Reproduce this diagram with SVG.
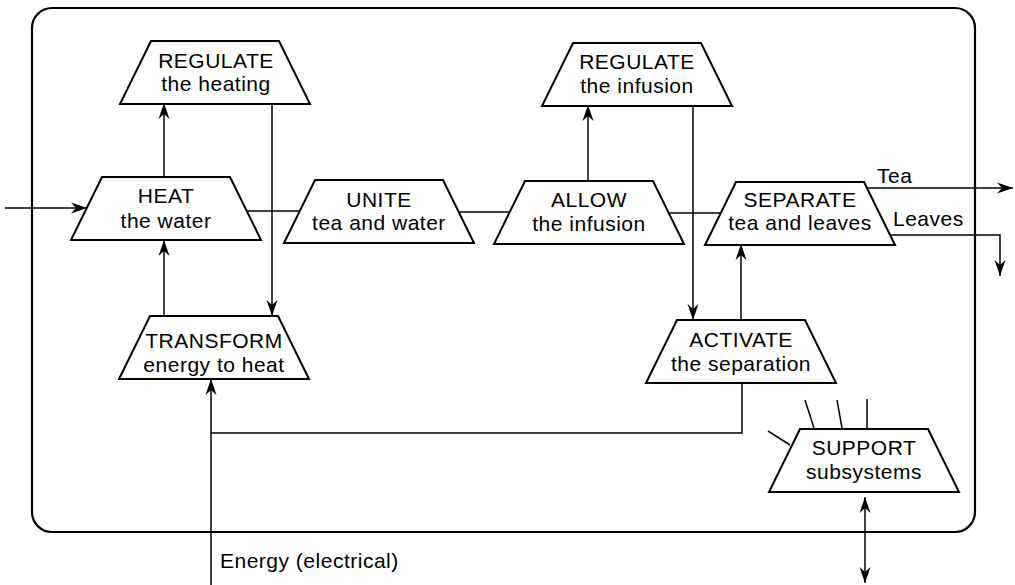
<svg xmlns="http://www.w3.org/2000/svg" width="1015" height="585" viewBox="0 0 1015 585">
  <style>
    .frame { fill: none; stroke: #000; stroke-width: 2.2; }
    .box { fill: #fff; stroke: #000; stroke-width: 2; stroke-linejoin: miter; }
    .wire { fill: none; stroke: #000; stroke-width: 1.5; }
    .arrow { marker-end: url(#head); }
    .both { marker-start: url(#head); marker-end: url(#head); }
    text { font-family: "Liberation Sans", Arial, sans-serif; font-size: 21px; letter-spacing: 0.5px; fill: #000; }
    .lbl { text-anchor: middle; }
  </style>
  <defs>
    <!-- trapezoid: top edge centred on (0,0), 63 high -->
    <path id="trap" d="M-64,0 H64 L95,63 H-95 Z"/>
    <marker id="head" viewBox="0 0 16 12" refX="16" refY="6" markerWidth="16" markerHeight="12" markerUnits="userSpaceOnUse" orient="auto-start-reverse">
      <path d="M0,0.5 L16,6 L0,11.5 L5,6 Z" fill="#000"/>
    </marker>
  </defs>

  <rect fill="#fff" width="1015" height="585"/>

  <!-- system boundary -->
  <rect class="frame" x="32" y="8" width="943" height="524" rx="20" ry="20"/>

  <!-- connectors -->
  <g id="connectors">
    <path class="wire arrow" d="M5,208 H87"/>
    <path class="wire arrow" d="M164,177 V103"/>
    <path class="wire arrow" d="M272,103 V316"/>
    <path class="wire arrow" d="M164,316 V240"/>
    <path class="wire arrow" d="M211,585 V379"/>
    <path class="wire" d="M742,382 V433 H211"/>
    <path class="wire" d="M247,211 H299"/>
    <path class="wire" d="M458,212 H509"/>
    <path class="wire arrow" d="M588,181 V105"/>
    <path class="wire arrow" d="M693,105 V320"/>
    <path class="wire" d="M669,213 H721"/>
    <path class="wire arrow" d="M741,320 V244"/>
    <path class="wire arrow" d="M866,188 H1013"/>
    <path class="wire arrow" d="M890,235 H1000 V276"/>
    <path class="wire both" d="M865,497 V583"/>
    <path class="wire" d="M768,431 L790,445"/>
    <path class="wire" d="M805,400 L814,428"/>
    <path class="wire" d="M837,400 L842,428"/>
    <path class="wire" d="M867,399 V428"/>
    <text x="877" y="183">Tea</text>
    <text x="893" y="226">Leaves</text>
    <text x="220" y="568">Energy (electrical)</text>
  </g>

  <g id="regulate-heating">
    <use href="#trap" class="box" x="215" y="41"/>
    <text class="lbl" x="216" y="68">REGULATE</text>
    <text class="lbl" x="216" y="91">the heating</text>
  </g>

  <g id="heat-water">
    <use href="#trap" class="box" x="166" y="177"/>
    <text class="lbl" x="166" y="203">HEAT</text>
    <text class="lbl" x="166" y="228">the water</text>
  </g>

  <g id="transform-energy">
    <use href="#trap" class="box" x="214" y="316"/>
    <text class="lbl" x="214" y="348">TRANSFORM</text>
    <text class="lbl" x="214" y="372">energy to heat</text>
  </g>

  <g id="unite-tea-water">
    <use href="#trap" class="box" x="379" y="180"/>
    <text class="lbl" x="379" y="207">UNITE</text>
    <text class="lbl" x="379" y="230">tea and water</text>
  </g>

  <g id="allow-infusion">
    <use href="#trap" class="box" x="589" y="181"/>
    <text class="lbl" x="589" y="207">ALLOW</text>
    <text class="lbl" x="589" y="231">the infusion</text>
  </g>

  <g id="regulate-infusion">
    <use href="#trap" class="box" x="637" y="43"/>
    <text class="lbl" x="637" y="69">REGULATE</text>
    <text class="lbl" x="637" y="93">the infusion</text>
  </g>

  <g id="separate-tea-leaves">
    <use href="#trap" class="box" x="800" y="182"/>
    <text class="lbl" x="800" y="207">SEPARATE</text>
    <text class="lbl" x="800" y="230">tea and leaves</text>
  </g>

  <g id="activate-separation">
    <use href="#trap" class="box" x="741" y="320"/>
    <text class="lbl" x="741" y="347">ACTIVATE</text>
    <text class="lbl" x="741" y="371">the separation</text>
  </g>

  <g id="support-subsystems">
    <use href="#trap" class="box" x="864" y="429"/>
    <text class="lbl" x="864" y="455">SUPPORT</text>
    <text class="lbl" x="864" y="479">subsystems</text>
  </g>
</svg>
